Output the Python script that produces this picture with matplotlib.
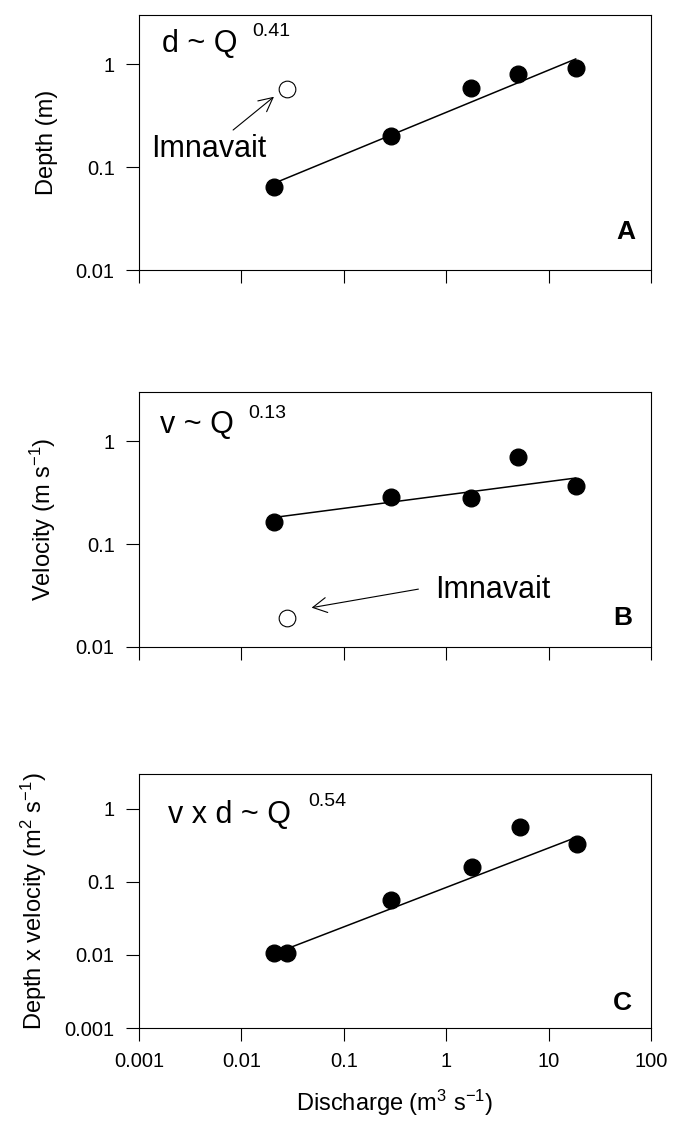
import numpy as np
import matplotlib
matplotlib.use("Agg")
from matplotlib import pyplot as plt
from matplotlib.ticker import FixedLocator, FixedFormatter, NullLocator

plt.rcParams['font.family'] = ['Liberation Sans', 'DejaVu Sans']
plt.rcParams['mathtext.fontset'] = 'custom'
plt.rcParams['mathtext.rm'] = 'Liberation Sans'
plt.rcParams['mathtext.it'] = 'Liberation Sans:italic'

# vazao dos rios (m3/s) e ponto de Imnavait
q_rios = [0.021, 0.29, 1.73, 5.0, 18.4]
q_imnavait = 0.028
profundidade = [0.064, 0.20, 0.58, 0.80, 0.92]
prof_imnavait = 0.57
velocidade = [0.164, 0.284, 0.281, 0.708, 0.37]
vel_imnavait = 0.019
# painel C inclui Imnavait
q_vd = [0.021, 0.028, 0.29, 1.8, 5.2, 18.8]
vel_x_prof = [0.0105, 0.0108, 0.057, 0.162, 0.56, 0.33]

# ajustes: coeficiente, expoente, inicio e fim da reta
ajuste_d = (0.34, 0.41, 0.021, 18.4)
ajuste_v = (0.30, 0.13, 0.021, 18.4)
ajuste_vd = (0.084, 0.54, 0.028, 18.4)

x_ticks = [0.001, 0.01, 0.1, 1, 10, 100]
x_labels = ["0.001", "0.01", "0.1", "1", "10", "100"]
y_ticks_ab = [0.01, 0.1, 1]
y_labels_ab = ["0.01", "0.1", "1"]
y_ticks_c = [0.001, 0.01, 0.1, 1]
y_labels_c = ["0.001", "0.01", "0.1", "1"]


def reta(ax, ajuste):
    a, b, q0, q1 = ajuste
    xs = np.array([q0, q1])
    ax.plot(xs, a * xs ** b, color='black', lw=1.1, zorder=2)


def formatar(ax, yticks, ylabels, ylim, mostrar_x):
    ax.set_xscale('log')
    ax.set_yscale('log')
    ax.set_xlim(0.001, 100)
    ax.set_ylim(*ylim)
    ax.xaxis.set_major_locator(FixedLocator(x_ticks))
    ax.xaxis.set_minor_locator(NullLocator())
    ax.yaxis.set_major_locator(FixedLocator(yticks))
    ax.yaxis.set_major_formatter(FixedFormatter(ylabels))
    ax.yaxis.set_minor_locator(NullLocator())
    if mostrar_x:
        ax.xaxis.set_major_formatter(FixedFormatter(x_labels))
    else:
        ax.xaxis.set_major_formatter(FixedFormatter([""] * len(x_ticks)))
    ax.tick_params(direction='out', length=9.5, width=0.8, labelsize=14.5, pad=8,
                   top=False, right=False)
    for s in ax.spines.values():
        s.set_linewidth(0.8)


fig = plt.figure(figsize=(6.73, 11.31), dpi=100)
esq, larg = 139 / 673, 512 / 673
axA = fig.add_axes([esq, 1 - 270 / 1131, larg, 255 / 1131])
axB = fig.add_axes([esq, 1 - 647 / 1131, larg, 255 / 1131])
axC = fig.add_axes([esq, 1 - 1028 / 1131, larg, 254 / 1131])

# painel A - profundidade
reta(axA, ajuste_d)
axA.plot(q_rios, profundidade, 'o', color='black', ms=12, zorder=3)
axA.plot([q_imnavait], [prof_imnavait], 'o', mfc='white', mec='black', mew=0.8, ms=12, zorder=3)
formatar(axA, y_ticks_ab, y_labels_ab, (0.01, 3), False)
axA.set_ylabel("Depth (m)", fontsize=17, labelpad=13)
axA.text(0.045, 0.855, "d ~ Q", transform=axA.transAxes, fontsize=22, va='baseline')
axA.text(0.221, 0.918, "0.41", transform=axA.transAxes, fontsize=14, va='baseline')
axA.text(0.023, 0.443, "Imnavait", transform=axA.transAxes, fontsize=22, va='baseline')
axA.annotate('', xy=(0.0208, 0.482), xytext=(0.0083, 0.229),
             arrowprops=dict(arrowstyle='->,head_length=0.5,head_width=0.25', lw=0.8,
                             shrinkA=0, shrinkB=0, mutation_scale=20))
axA.text(0.969, 0.12, "A", transform=axA.transAxes, fontsize=19, fontweight='bold',
         ha='right', va='baseline')

# painel B - velocidade
reta(axB, ajuste_v)
axB.plot(q_rios, velocidade, 'o', color='black', ms=12, zorder=3)
axB.plot([q_imnavait], [vel_imnavait], 'o', mfc='white', mec='black', mew=0.8, ms=12, zorder=3)
formatar(axB, y_ticks_ab, y_labels_ab, (0.01, 3), False)
axB.set_ylabel("Velocity (m s$^{-1}$)", fontsize=17, labelpad=13)
axB.text(0.041, 0.839, "v ~ Q", transform=axB.transAxes, fontsize=22, va='baseline')
axB.text(0.213, 0.898, "0.13", transform=axB.transAxes, fontsize=14, va='baseline')
axB.text(0.578, 0.192, "Imnavait", transform=axB.transAxes, fontsize=22, va='baseline')
axB.annotate('', xy=(0.0485, 0.0241), xytext=(0.535, 0.0365),
             arrowprops=dict(arrowstyle='->,head_length=0.5,head_width=0.27', lw=0.8,
                             shrinkA=0, shrinkB=0, mutation_scale=20))
axB.text(0.963, 0.086, "B", transform=axB.transAxes, fontsize=19, fontweight='bold',
         ha='right', va='baseline')

# painel C - velocidade x profundidade
reta(axC, ajuste_vd)
axC.plot(q_vd, vel_x_prof, 'o', color='black', ms=12, zorder=3)
formatar(axC, y_ticks_c, y_labels_c, (0.001, 3), True)
axC.set_ylabel("Depth x velocity (m$^{2}$ s$^{-1}$)", fontsize=17, labelpad=11)
axC.set_xlabel("Discharge (m$^{3}$ s$^{-1}$)", fontsize=17, labelpad=12)
axC.text(0.057, 0.807, "v x d ~ Q", transform=axC.transAxes, fontsize=22, va='baseline')
axC.text(0.330, 0.874, "0.54", transform=axC.transAxes, fontsize=14, va='baseline')
axC.text(0.963, 0.071, "C", transform=axC.transAxes, fontsize=19, fontweight='bold',
         ha='right', va='baseline')

fig.savefig("out.png", dpi=100)
